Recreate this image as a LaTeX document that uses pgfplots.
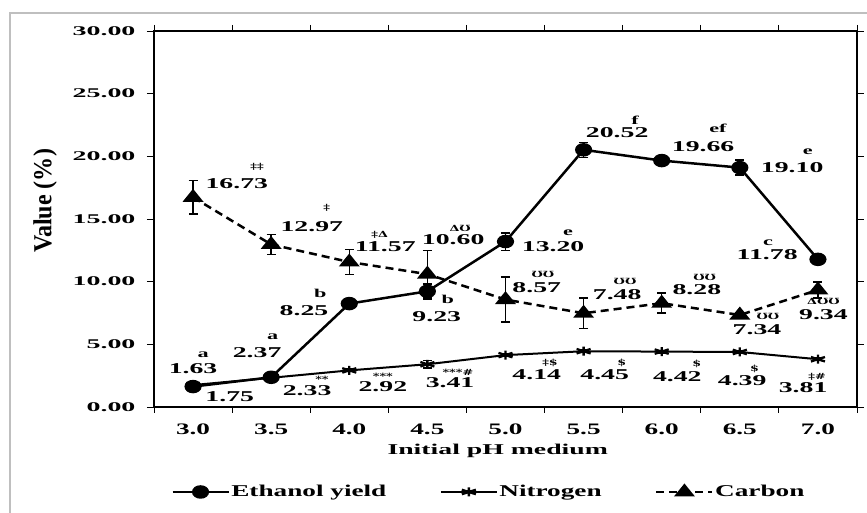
\documentclass[border=0pt]{standalone}
\usepackage{pgfplots}
\pgfplotsset{compat=1.18}
\usepackage{fontspec}
\usepackage{graphicx}
\setmainfont{Liberation Serif}[FakeStretch=1.85]
\newfontfamily\ytf{Liberation Serif}[FakeStretch=2.1]
\newfontfamily\xtf{Liberation Serif}[FakeStretch=1.7]
\newfontfamily\lgf{Liberation Serif}[FakeStretch=1.65]
\newfontfamily\symf{DejaVu Serif}[FakeStretch=1.5]
\newcommand{\dnum}[1]{{\bfseries\fontsize{15}{16}\selectfont #1}}
\newcommand{\dlt}[1]{{\bfseries\fontsize{12}{13}\selectfont #1}}
\newcommand{\dsym}[1]{{\symf\bfseries\fontsize{8.5}{9}\selectfont #1}}
\begin{document}
\begin{tikzpicture}
\useasboundingbox (-154pt,-106pt) rectangle (713pt,407pt);
\draw[black!25, line width=1.5pt] (-144pt,-106pt) -- (-144pt,394pt) -- (713pt,394pt);
\begin{axis}[
  at={(0pt,0pt)}, anchor=south west,
  scale only axis, width=703pt, height=376pt,
  xmin=-0.5, xmax=8.5, ymin=0, ymax=30,
  clip=false,
  axis line style={line width=1.3pt},
  xtick={0,...,8},
  xticklabels={3.0,3.5,4.0,4.5,5.0,5.5,6.0,6.5,7.0},
  major x tick style={draw=none},
  minor xtick={-0.5,0.5,...,8.5},
  minor tick length=6pt,
  minor x tick style={line width=0.8pt, black},
  ytick={0,5,...,30},
  tick align=outside,
  major tick length=7pt,
  y tick style={line width=0.8pt, black},
  xticklabel style={font=\xtf\bfseries\fontsize{16}{18}\selectfont, yshift=-6pt},
  yticklabel style={font=\ytf\bfseries\fontsize{13.3}{14}\selectfont, xshift=-8pt},
  /pgf/number format/assume math mode=true,
  /pgf/number format/.cd, fixed, fixed zerofill, precision=2,
  /pgfplots/.cd,
  xlabel={Initial pH medium},
  xlabel style={font=\bfseries\fontsize{15}{16}\selectfont, at={(axis description cs:0.489,-0.117)}, anchor=center},
  ylabel={\scalebox{1}[2.0]{Value (\%)}},
  ylabel style={font=\bfseries\fontsize{13}{14}\selectfont, at={(axis description cs:-0.155,0.548)}, anchor=center},
  legend columns=3,
  legend style={at={(0.476,-0.226)}, anchor=center, draw=none, fill=none,
    font=\lgf\bfseries\fontsize{16.5}{18}\selectfont,
    nodes={inner sep=1.5pt},
    /tikz/every even column/.append style={column sep=52pt}},
  legend image code/.code={\draw[mark repeat=2, mark phase=2, #1] plot coordinates {(0pt,0pt) (28pt,0pt) (56pt,0pt)};},
]
% Ethanol yield
\addplot[black, line width=2.5pt, mark=*, mark options={solid, xscale=1.33, mark size=5.5pt},
  error bars/.cd, y dir=both, y explicit,
  error bar style={line width=1.5pt, solid},
  error mark options={rotate=90, mark size=4.5pt, line width=1.5pt, solid}]
  table[x=x, y=y, y error=e] {
x y e
0 1.63 0.15
1 2.37 0.15
2 8.25 0.15
3 9.23 0.6
4 13.20 0.7
5 20.52 0.6
6 19.66 0.1
7 19.10 0.6
8 11.78 0.2
};
\addlegendentry{Ethanol yield}
% Nitrogen
\addplot[black, line width=2pt, mark=asterisk, mark options={solid, xscale=1.8, mark size=4.5pt, line width=2.3pt},
  error bars/.cd, y dir=both, y explicit,
  error bar style={line width=1.5pt, solid},
  error mark options={rotate=90, mark size=4.5pt, line width=1.5pt, solid}]
  table[x=x, y=y, y error=e] {
x y e
0 1.75 0.1
1 2.33 0.1
2 2.92 0.1
3 3.41 0.3
4 4.14 0.1
5 4.45 0.1
6 4.42 0.1
7 4.39 0.1
8 3.81 0.1
};
\addlegendentry{Nitrogen}
% Carbon
\addplot[black, line width=2.5pt, dash pattern=on 8pt off 5pt, mark=triangle*, mark options={solid, xscale=1.4, mark size=6.5pt},
  error bars/.cd, y dir=both, y explicit,
  error bar style={line width=1.5pt, solid},
  error mark options={rotate=90, mark size=4.5pt, line width=1.5pt, solid}]
  table[x=x, y=y, y error=e] {
x y e
0 16.73 1.35
1 12.97 0.8
2 11.57 1.0
3 10.60 1.9
4 8.57 1.8
5 7.48 1.2
6 8.28 0.8
7 7.34 0.2
8 9.34 0.65
};
\addlegendentry{Carbon}
% Ethanol labels
\node at (axis cs:0.13,4.15) {\dlt{a}};
\node at (axis cs:0.0,3.03) {\dnum{1.63}};
\node at (axis cs:1.02,5.59) {\dlt{a}};
\node at (axis cs:0.82,4.31) {\dnum{2.37}};
\node at (axis cs:1.63,9.10) {\dlt{b}};
\node at (axis cs:1.42,7.66) {\dnum{8.25}};
\node at (axis cs:3.26,8.62) {\dlt{b}};
\node at (axis cs:3.12,7.18) {\dnum{9.23}};
\node at (axis cs:4.80,13.88) {\dlt{e}};
\node at (axis cs:4.61,12.77) {\dnum{13.20}};
\node at (axis cs:5.66,22.90) {\dlt{f}};
\node at (axis cs:5.43,21.86) {\dnum{20.52}};
\node at (axis cs:6.72,22.26) {\dlt{ef}};
\node at (axis cs:6.53,20.75) {\dnum{19.66}};
\node at (axis cs:7.87,20.35) {\dlt{e}};
\node at (axis cs:7.67,19.07) {\dnum{19.10}};
\node at (axis cs:7.36,13.09) {\dlt{c}};
\node at (axis cs:7.35,12.13) {\dnum{11.78}};
% Nitrogen labels
\node at (axis cs:0.47,0.80) {\dnum{1.75}};
\node at (axis cs:1.65,2.23) {\dsym{**}};
\node at (axis cs:1.46,1.28) {\dnum{2.33}};
\node at (axis cs:2.43,2.45) {\dsym{***}};
\node at (axis cs:2.43,1.60) {\dnum{2.92}};
\node at (axis cs:3.39,2.79) {\dsym{***\#}};
\node at (axis cs:3.29,1.91) {\dnum{3.41}};
\node at (axis cs:4.57,3.51) {\dsym{‡\$}};
\node at (axis cs:4.40,2.55) {\dnum{4.14}};
\node at (axis cs:5.49,3.51) {\dsym{\$}};
\node at (axis cs:5.27,2.55) {\dnum{4.45}};
\node at (axis cs:6.45,3.43) {\dsym{\$}};
\node at (axis cs:6.20,2.39) {\dnum{4.42}};
\node at (axis cs:7.19,3.03) {\dsym{\$}};
\node at (axis cs:7.03,2.07) {\dnum{4.39}};
\node at (axis cs:7.99,2.39) {\dsym{‡\#}};
\node at (axis cs:7.81,1.52) {\dnum{3.81}};
% Carbon labels
\node at (axis cs:0.82,19.15) {\dsym{‡‡}};
\node at (axis cs:0.56,17.79) {\dnum{16.73}};
\node at (axis cs:1.71,15.88) {\dsym{‡}};
\node at (axis cs:1.52,14.36) {\dnum{12.97}};
\node at (axis cs:2.39,13.70) {\dsym{‡Δ}};
\node at (axis cs:2.46,12.77) {\dnum{11.57}};
\node at (axis cs:3.42,14.28) {\dsym{ΔƱ}};
\node at (axis cs:3.33,13.32) {\dnum{10.60}};
\node at (axis cs:4.48,10.60) {\dsym{ƱƱ}};
\node at (axis cs:4.40,9.50) {\dnum{8.57}};
\node at (axis cs:5.53,10.05) {\dsym{ƱƱ}};
\node at (axis cs:5.43,9.00) {\dnum{7.48}};
\node at (axis cs:6.55,10.35) {\dsym{ƱƱ}};
\node at (axis cs:6.45,9.34) {\dnum{8.28}};
\node at (axis cs:7.36,7.20) {\dsym{ƱƱ}};
\node at (axis cs:7.22,6.20) {\dnum{7.34}};
\node at (axis cs:8.07,8.40) {\dsym{ΔƱƱ}};
\node at (axis cs:8.07,7.34) {\dnum{9.34}};
\end{axis}
\end{tikzpicture}
\end{document}
